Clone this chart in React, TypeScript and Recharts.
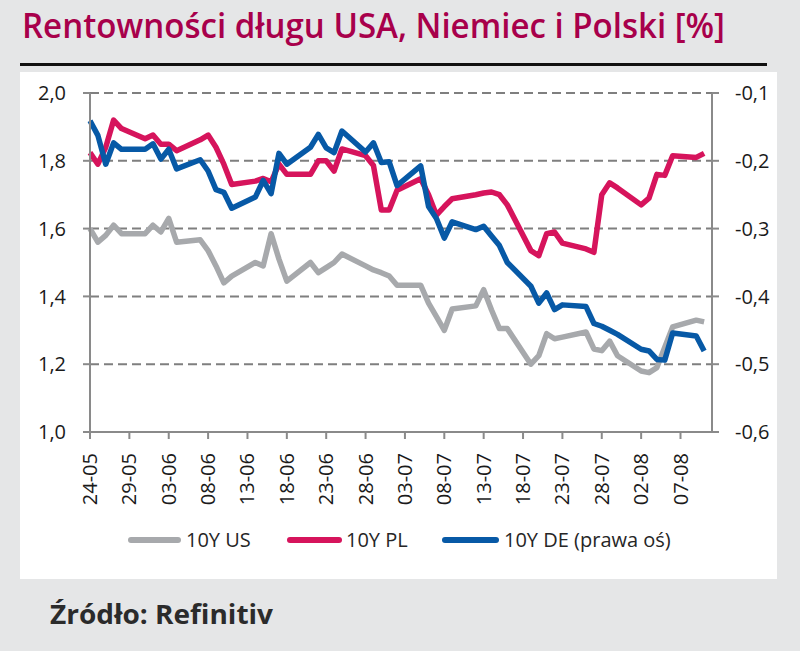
import React from "react";
import { LineChart, Line, XAxis, YAxis, CartesianGrid } from "recharts";

// days counted from 24-05 (trading days only)
const days = [
  0, 1, 2, 3, 4, 7, 8, 9, 10, 11, 14, 15, 16, 17, 18, 21, 22, 23, 24, 25, 28, 29, 30, 31, 32,
  35, 36, 37, 38, 39, 42, 43, 44, 45, 46, 49, 50, 51, 52, 53, 56, 57, 58, 59, 60, 63, 64, 65,
  66, 67, 70, 71, 72, 73, 74, 77, 78,
];

const us10y = [
  1.6, 1.56, 1.58, 1.61, 1.585, 1.585, 1.61, 1.59, 1.63, 1.56, 1.567, 1.535, 1.49, 1.44, 1.46,
  1.5, 1.49, 1.585, 1.51, 1.445, 1.5, 1.47, 1.485, 1.5, 1.525, 1.49, 1.478, 1.47, 1.46, 1.433,
  1.433, 1.38, 1.34, 1.3, 1.363, 1.372, 1.42, 1.36, 1.305, 1.305, 1.2, 1.225, 1.29, 1.275, 1.28,
  1.295, 1.245, 1.24, 1.268, 1.225, 1.18, 1.175, 1.19, 1.25, 1.31, 1.33, 1.325,
];

const pl10y = [
  1.824, 1.79, 1.84, 1.92, 1.895, 1.865, 1.876, 1.849, 1.849, 1.83, 1.862, 1.876, 1.84, 1.79,
  1.73, 1.74, 1.748, 1.738, 1.79, 1.76, 1.76, 1.8, 1.8, 1.77, 1.835, 1.815, 1.786, 1.655, 1.655,
  1.713, 1.747, 1.7, 1.64, 1.665, 1.688, 1.7, 1.705, 1.708, 1.7, 1.67, 1.535, 1.52, 1.585, 1.59,
  1.557, 1.54, 1.53, 1.7, 1.735, 1.72, 1.67, 1.69, 1.76, 1.757, 1.815, 1.81, 1.822,
];

const de10y = [
  -0.141, -0.1625, -0.205, -0.1735, -0.183, -0.183, -0.175, -0.1975, -0.183, -0.212, -0.1985,
  -0.215, -0.2425, -0.2465, -0.27, -0.2535, -0.229, -0.2485, -0.189, -0.205, -0.18, -0.161,
  -0.181, -0.188, -0.156, -0.187, -0.1735, -0.2025, -0.2015, -0.2365, -0.2075, -0.2675, -0.285,
  -0.314, -0.29, -0.3015, -0.2965, -0.311, -0.325, -0.35, -0.385, -0.41, -0.395, -0.4195,
  -0.4125, -0.415, -0.44, -0.444, -0.45, -0.456, -0.478, -0.4805, -0.493, -0.494, -0.454,
  -0.4585, -0.4805,
];

const xTicks = [0, 5, 10, 15, 20, 25, 30, 35, 40, 45, 50, 55, 60, 65, 70, 75];
const xLabels = [
  "24-05", "29-05", "03-06", "08-06", "13-06", "18-06", "23-06", "28-06",
  "03-07", "08-07", "13-07", "18-07", "23-07", "28-07", "02-08", "07-08",
];
const leftTicks = [1.0, 1.2, 1.4, 1.6, 1.8, 2.0];
const rightTicks = [-0.6, -0.5, -0.4, -0.3, -0.2, -0.1];

const data = days.map((d, i) => ({ d, us: us10y[i], pl: pl10y[i], de: de10y[i] }));

const FONT = '"Open Sans", sans-serif';
const GRAY = "#a7a9ac";
const RED = "#d6145c";
const BLUE = "#0759a6";
const AXIS = "#8a8a8a";

const fmt = (v: number) => v.toFixed(1).replace(".", ",");

const XTick = ({ x, y, payload }: any) => {
  const idx = xTicks.indexOf(payload.value);
  return (
    <text
      x={x}
      y={y}
      transform={`rotate(-90, ${x}, ${y})`}
      textAnchor="end"
      dy="0.35em"
      fontSize={20}
      fontFamily={FONT}
      fill="#1a1a1a"
    >
      {xLabels[idx]}
    </text>
  );
};

const legendItems = [
  { name: "10Y US", color: GRAY, sx: 128, sw: 53, tx: 186 },
  { name: "10Y PL", color: RED, sx: 287, sw: 55, tx: 346 },
  { name: "10Y DE (prawa oś)", color: BLUE, sx: 442, sw: 57, tx: 504 },
];

export default function App() {
  return (
    <div
      style={{
        position: "absolute",
        left: 0,
        top: 0,
        width: 800,
        height: 651,
        background: "#e5e6e7",
        overflow: "hidden",
      }}
    >
      <svg width={800} height={651} style={{ position: "absolute", left: 0, top: 0 }}>
        <text
          x={22}
          y={38}
          fontSize={35}
          fontWeight={600}
          fontFamily={FONT}
          fill="#a8004b"
          textLength={703}
          lengthAdjust="spacingAndGlyphs"
        >
          Rentowności długu USA, Niemiec i Polski [%]
        </text>
        <rect x={20} y={63} width={747} height={3} fill="#111" />
        <rect x={20} y={72} width={757} height={507} fill="#fff" />
        <text
          x={50}
          y={624}
          fontSize={26}
          fontWeight="bold"
          fontFamily={FONT}
          fill="#2b2b2b"
          textLength={223}
          lengthAdjust="spacingAndGlyphs"
        >
          Źródło: Refinitiv
        </text>
      </svg>

      <div style={{ position: "absolute", left: 0, top: 0 }}>
        <LineChart
          width={800}
          height={651}
          data={data}
          margin={{ top: 93, right: 28, bottom: 139, left: 30 }}
        >
          <CartesianGrid
            yAxisId="left"
            vertical={false}
            stroke="#7f7f7f"
            strokeWidth={2}
            strokeDasharray="9 5"
          />
          <XAxis
            dataKey="d"
            type="number"
            domain={[0, 79]}
            ticks={xTicks}
            interval={0}
            height={80}
            tick={<XTick />}
            tickSize={7}
            tickMargin={14}
            axisLine={{ stroke: AXIS, strokeWidth: 2 }}
            tickLine={{ stroke: AXIS, strokeWidth: 2 }}
          />
          <YAxis
            yAxisId="left"
            domain={[1, 2]}
            ticks={leftTicks}
            interval={0}
            width={60}
            tickFormatter={fmt}
            tickSize={7}
            tickMargin={17}
            tick={{ fontSize: 20, fill: "#1a1a1a", fontFamily: FONT }}
            axisLine={{ stroke: AXIS, strokeWidth: 2 }}
            tickLine={{ stroke: AXIS, strokeWidth: 2 }}
          />
          <YAxis
            yAxisId="right"
            orientation="right"
            domain={[-0.6, -0.1]}
            ticks={rightTicks}
            interval={0}
            width={60}
            tickFormatter={fmt}
            tickSize={7}
            tickMargin={16}
            tick={{ fontSize: 20, fill: "#1a1a1a", fontFamily: FONT, textAnchor: "start" }}
            axisLine={{ stroke: AXIS, strokeWidth: 2 }}
            tickLine={{ stroke: AXIS, strokeWidth: 2 }}
          />
          <Line
            yAxisId="left"
            type="linear"
            dataKey="us"
            stroke={GRAY}
            strokeWidth={5.5}
            strokeLinejoin="round"
            dot={false}
            isAnimationActive={false}
          />
          <Line
            yAxisId="left"
            type="linear"
            dataKey="pl"
            stroke={RED}
            strokeWidth={5.5}
            strokeLinejoin="round"
            dot={false}
            isAnimationActive={false}
          />
          <Line
            yAxisId="right"
            type="linear"
            dataKey="de"
            stroke={BLUE}
            strokeWidth={5.5}
            strokeLinejoin="round"
            dot={false}
            isAnimationActive={false}
          />
        </LineChart>
      </div>

      {legendItems.map((it) => (
        <React.Fragment key={it.name}>
          <div
            style={{
              position: "absolute",
              left: it.sx,
              top: 537,
              width: it.sw,
              height: 6,
              borderRadius: 3,
              background: it.color,
            }}
          />
          <div
            style={{
              position: "absolute",
              left: it.tx,
              top: 526,
              fontSize: 20,
              lineHeight: "28px",
              fontFamily: FONT,
              color: "#262626",
              whiteSpace: "nowrap",
            }}
          >
            {it.name}
          </div>
        </React.Fragment>
      ))}
    </div>
  );
}
